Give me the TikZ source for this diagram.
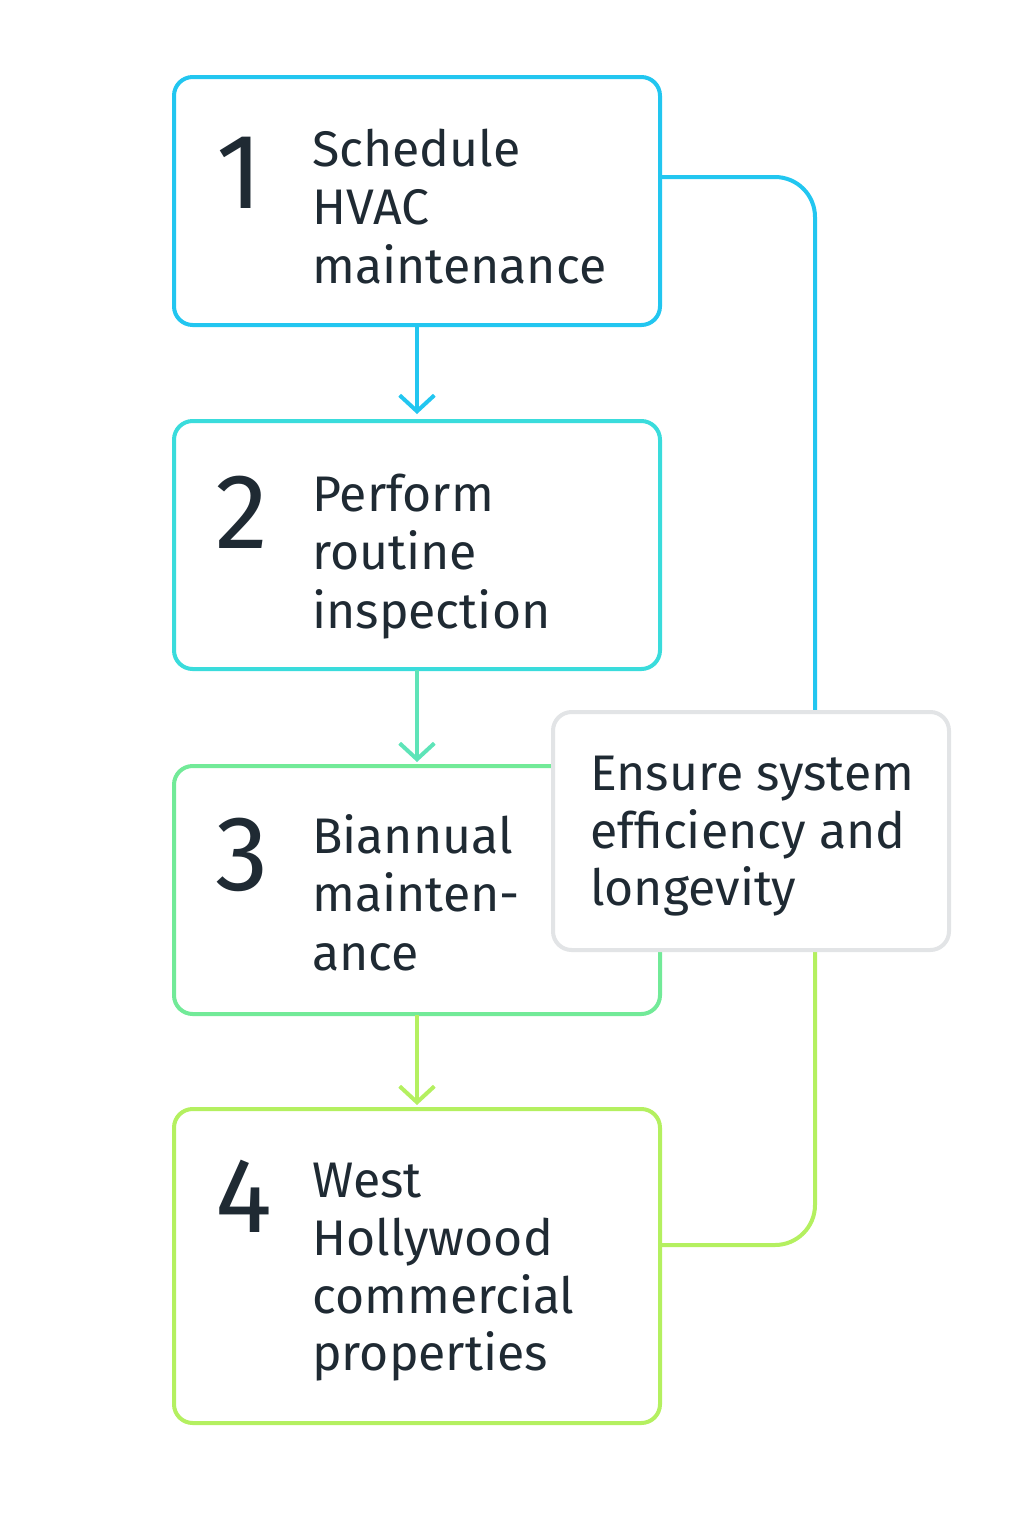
\documentclass[tikz,border=0pt]{standalone}
\usepackage{fontspec}
\setmainfont{Fira Sans}
\usetikzlibrary{arrows.meta}
\definecolor{txt}{HTML}{1F2A33}
\definecolor{cA}{HTML}{22C6F0}
\definecolor{cB}{HTML}{3ADCDC}
\definecolor{cC}{HTML}{72EA98}
\definecolor{cD}{HTML}{B4F060}
\definecolor{cM}{HTML}{5EE4B8}
\definecolor{gr}{HTML}{E2E4E6}
\begin{document}
\begin{tikzpicture}[x=0.75pt,y=-0.75pt,
  box/.style={draw=#1,line width=3pt,rounded corners=14pt,fill=white},
  num/.style={anchor=base,font=\fontsize{80}{80}\selectfont,text=txt,inner sep=0},
  ln/.style={anchor=base west,font=\fontsize{37.5}{37.5}\selectfont,text=txt,inner sep=0},
  arr/.style={line width=3pt,-{Straight Barb[length=12pt,width=26pt,line width=3pt]}}]
\useasboundingbox (0,0) rectangle (1024,1536);
% right connector
\draw[cA,line width=3pt,rounded corners=30pt] (660,177) -- (815,177) -- (815,712);
\draw[cD,line width=3pt,rounded corners=30pt] (815,950) -- (815,1245) -- (660,1245);
\draw[box=cA] (174,77) rectangle (660,325);
\draw[box=cB] (174,421) rectangle (660,669);
\draw[box=cC] (174,766) rectangle (660,1014);
\draw[box=cD] (174,1109) rectangle (660,1423);
\draw[box=gr] (553,712) rectangle (949,950);
\draw[arr,cA] (417,326) -- (417,414);
\draw[arr,cM] (417,670) -- (417,762);
\draw[arr,cD] (417,1015) -- (417,1105);
\node[num] at (240,208) {1};
\node[num] at (242,548) {2};
\node[num] at (242,890) {3};
\node[num] at (244,1232) {4};
\node[ln] at (312,166) {Schedule};
\node[ln] at (312,224) {HVAC};
\node[ln] at (312,283) {maintenance};
\node[ln] at (312,511) {Perform};
\node[ln] at (312,569) {routine};
\node[ln] at (312,628) {inspection};
\node[ln] at (312,853) {Biannual};
\node[ln] at (312,911) {mainten-};
\node[ln] at (312,970) {ance};
\node[ln] at (312,1197) {West};
\node[ln] at (312,1255) {Hollywood};
\node[ln] at (312,1313) {commercial};
\node[ln] at (312,1370) {properties};
\node[ln] at (590,790) {Ensure system};
\node[ln] at (590,848) {efficiency and};
\node[ln] at (590,905) {longevity};
\end{tikzpicture}
\end{document}
